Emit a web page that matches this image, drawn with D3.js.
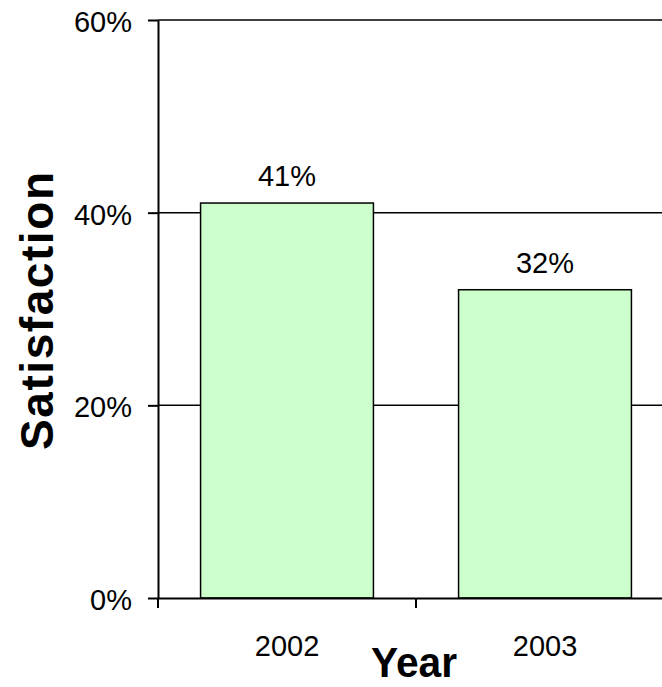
<!DOCTYPE html>
<html>
<head>
<meta charset="utf-8">
<script src="https://cdn.jsdelivr.net/npm/d3@7"></script>
<style>
  html, body { margin: 0; padding: 0; background: #fff; }
  svg { display: block; }
  text { font-family: "Liberation Sans", Arial, sans-serif; fill: #000; }
</style>
</head>
<body>
<svg id="chart" width="662" height="687"></svg>
<script>
// Survey satisfaction by year
const years = ["2002", "2003"];
const satisfaction = [0.41, 0.32];
const yTicks = [0, 0.2, 0.4, 0.6];

const svg = d3.select("#chart");

const plot = { left: 158, right: 674, top: 20, bottom: 598 };

// category slots (tick marks sit on the slot boundaries)
const xSlot = d3.scaleBand().domain(years).range([plot.left, plot.right]).padding(0);
// bars inside each slot
const xBar = d3.scaleBand().domain(years).range([plot.left, plot.right])
  .paddingInner(0.33).paddingOuter(0.165);
const y = d3.scaleLinear().domain([0, 0.6]).range([plot.bottom, plot.top]);

const pct = d3.format(".0%");

// horizontal gridlines
svg.append("g")
  .selectAll("line")
  .data(yTicks.filter(d => d > 0))
  .join("line")
  .attr("x1", plot.left).attr("x2", plot.right)
  .attr("y1", d => y(d)).attr("y2", d => y(d))
  .attr("stroke", "#000").attr("stroke-width", 1.5);

// bars
svg.append("g")
  .selectAll("rect")
  .data(years)
  .join("rect")
  .attr("x", d => xBar(d))
  .attr("width", xBar.bandwidth())
  .attr("y", (d, i) => y(satisfaction[i]))
  .attr("height", (d, i) => y(0) - y(satisfaction[i]))
  .attr("fill", "#ccffcc")
  .attr("stroke", "#000")
  .attr("stroke-width", 1.5);

// value labels
svg.append("g")
  .selectAll("text")
  .data(years)
  .join("text")
  .attr("x", d => xBar(d) + xBar.bandwidth() / 2)
  .attr("y", (d, i) => y(satisfaction[i]) - 17)
  .attr("text-anchor", "middle")
  .attr("font-size", 29)
  .text((d, i) => pct(satisfaction[i]));

// y axis
const yAxis = svg.append("g")
  .attr("transform", `translate(${plot.left},0)`)
  .call(d3.axisLeft(y).tickValues(yTicks).tickFormat(pct)
    .tickSizeInner(10).tickSizeOuter(0).tickPadding(16));
yAxis.select(".domain").attr("stroke-width", 2);
yAxis.selectAll(".tick line").attr("stroke-width", 2);
yAxis.selectAll("text")
  .attr("font-size", 29)
  .attr("font-family", "Liberation Sans, Arial, sans-serif")
  .attr("dy", "0.4em");

// x axis: labels centred in each slot, ticks on slot boundaries
const xAxis = svg.append("g")
  .attr("transform", `translate(0,${plot.bottom})`)
  .call(d3.axisBottom(xSlot).tickSize(0).tickPadding(37));
xAxis.select(".domain").attr("stroke-width", 2);
xAxis.selectAll("text")
  .attr("font-size", 29)
  .attr("font-family", "Liberation Sans, Arial, sans-serif");

const boundaries = years.map(d => xSlot(d)).concat([xSlot.range()[1]]);
xAxis.append("g")
  .selectAll("line")
  .data(boundaries)
  .join("line")
  .attr("x1", d => d).attr("x2", d => d)
  .attr("y1", 0).attr("y2", 10)
  .attr("stroke", "#000").attr("stroke-width", 2);

// axis titles
svg.append("text")
  .attr("transform", `translate(53,311) rotate(-90)`)
  .attr("text-anchor", "middle")
  .attr("font-size", 46)
  .attr("font-weight", "bold")
  .attr("textLength", 278)
  .attr("lengthAdjust", "spacing")
  .text("Satisfaction");

svg.append("text")
  .attr("x", 414)
  .attr("y", 677)
  .attr("text-anchor", "middle")
  .attr("font-size", 43)
  .attr("font-weight", "bold")
  .attr("textLength", 86)
  .attr("lengthAdjust", "spacingAndGlyphs")
  .text("Year");
</script>
</body>
</html>
